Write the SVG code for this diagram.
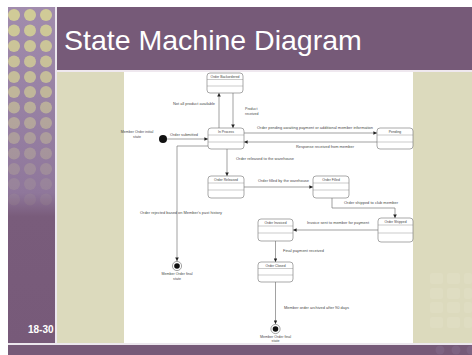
<svg xmlns="http://www.w3.org/2000/svg" width="472" height="355" viewBox="0 0 472 355">
  <style>
    .state { fill: #ffffff; stroke: #6e6e6e; stroke-width: 0.6; }
    .div { stroke: #8a8a8a; stroke-width: 0.45; }
    .edge { fill: none; stroke: #7a7a7a; stroke-width: 0.7; }
    .sname { font-family: "Liberation Sans", Arial, sans-serif; font-size: 3.4px; fill: #444; text-anchor: middle; }
    .lbl { font-family: "Liberation Sans", Arial, sans-serif; font-size: 3.6px; fill: #4a4a4a; }
    .lblc { font-family: "Liberation Sans", Arial, sans-serif; font-size: 3.6px; fill: #4a4a4a; text-anchor: middle; }
    .dot { fill: #d3cf96; }
    .tile { fill: #e4e2cc; opacity: 0.35; }
  </style>
  <defs>
    <linearGradient id="colGrad" x1="0" y1="0" x2="0" y2="1">
      <stop offset="0" stop-color="#a18cad"/>
      <stop offset="0.55" stop-color="#8f779b"/>
      <stop offset="0.62" stop-color="#795c7b"/>
      <stop offset="1" stop-color="#775a79"/>
    </linearGradient>
    <marker id="arr" viewBox="0 0 6 6" refX="6" refY="3" markerWidth="3.6" markerHeight="3.6" orient="auto" markerUnits="userSpaceOnUse">
      <path d="M0,0 L6,3 L0,6 Z" fill="#222"/>
    </marker>
  </defs>

  <!-- slide frame -->
  <rect x="0" y="0" width="472" height="355" fill="#ffffff"/>
  <rect x="8" y="7" width="47" height="338" fill="url(#colGrad)"/>
  <rect x="55" y="7" width="2" height="338" fill="#ece7ee"/>
  <rect x="57" y="7" width="415" height="63" fill="#765a78"/>
  <rect x="57" y="70" width="415" height="2" fill="#efe8ef"/>
  <rect x="57" y="72" width="415" height="272" fill="#dcdabd"/>
  <rect x="124" y="72" width="289" height="272" fill="#ffffff"/>
  <rect x="8" y="343" width="464" height="2" fill="#ece7ee"/>
  <rect x="8" y="345" width="464" height="10" fill="#765a78"/>

  <!-- dotted column pattern -->
  <g id="dots">
    <g opacity="0.95"><circle class="dot" cx="14" cy="15" r="6"/><circle class="dot" cx="30" cy="15" r="6"/><circle class="dot" cx="46" cy="15" r="6"/></g>
    <g opacity="0.9"><circle class="dot" cx="14" cy="30.5" r="6"/><circle class="dot" cx="30" cy="30.5" r="6"/><circle class="dot" cx="46" cy="30.5" r="6"/></g>
    <g opacity="0.86"><circle class="dot" cx="14" cy="46" r="6"/><circle class="dot" cx="30" cy="46" r="6"/><circle class="dot" cx="46" cy="46" r="6"/></g>
    <g opacity="0.82"><circle class="dot" cx="14" cy="61.5" r="6"/><circle class="dot" cx="30" cy="61.5" r="6"/><circle class="dot" cx="46" cy="61.5" r="6"/></g>
    <g opacity="0.76"><circle class="dot" cx="14" cy="77" r="6"/><circle class="dot" cx="30" cy="77" r="6"/><circle class="dot" cx="46" cy="77" r="6"/></g>
    <g opacity="0.68"><circle class="dot" cx="14" cy="92" r="6"/><circle class="dot" cx="30" cy="92" r="6"/><circle class="dot" cx="46" cy="92" r="6"/></g>
    <g opacity="0.58"><circle class="dot" cx="14" cy="107.5" r="6"/><circle class="dot" cx="30" cy="107.5" r="6"/><circle class="dot" cx="46" cy="107.5" r="6"/></g>
    <g opacity="0.48"><circle class="dot" cx="14" cy="123" r="6"/><circle class="dot" cx="30" cy="123" r="6"/><circle class="dot" cx="46" cy="123" r="6"/></g>
    <g opacity="0.38"><circle class="dot" cx="14" cy="138" r="6"/><circle class="dot" cx="30" cy="138" r="6"/><circle class="dot" cx="46" cy="138" r="6"/></g>
    <g opacity="0.3"><circle class="dot" cx="14" cy="153.5" r="6"/><circle class="dot" cx="30" cy="153.5" r="6"/><circle class="dot" cx="46" cy="153.5" r="6"/></g>
    <g opacity="0.22"><circle class="dot" cx="14" cy="169" r="6"/><circle class="dot" cx="30" cy="169" r="6"/><circle class="dot" cx="46" cy="169" r="6"/></g>
    <g opacity="0.14"><circle class="dot" cx="14" cy="184" r="6"/><circle class="dot" cx="30" cy="184" r="6"/><circle class="dot" cx="46" cy="184" r="6"/></g>
    <g opacity="0.08"><circle class="dot" cx="14" cy="199.5" r="6"/><circle class="dot" cx="30" cy="199.5" r="6"/><circle class="dot" cx="46" cy="199.5" r="6"/></g>
  </g>

  <!-- faint tiles, lower right -->
  <g id="tiles">
    <rect class="tile" x="430" y="273" width="13" height="11" rx="2"/><rect class="tile" x="447" y="273" width="13" height="11" rx="2"/><rect class="tile" x="464" y="273" width="8" height="11" rx="2"/>
    <rect class="tile" x="430" y="288" width="13" height="11" rx="2"/><rect class="tile" x="447" y="288" width="13" height="11" rx="2"/><rect class="tile" x="464" y="288" width="8" height="11" rx="2"/>
    <rect class="tile" x="430" y="302" width="13" height="11" rx="2"/><rect class="tile" x="447" y="302" width="13" height="11" rx="2"/><rect class="tile" x="464" y="302" width="8" height="11" rx="2"/>
    <rect class="tile" x="430" y="317" width="13" height="11" rx="2"/><rect class="tile" x="447" y="317" width="13" height="11" rx="2"/><rect class="tile" x="464" y="317" width="8" height="11" rx="2"/>
    <circle cx="440" cy="350" r="4.5" fill="#8a7190" opacity="0.4"/>
    <circle cx="456" cy="350" r="4.5" fill="#8a7190" opacity="0.4"/>
    <circle cx="471" cy="350" r="4.5" fill="#8a7190" opacity="0.4"/>
  </g>

  <!-- slide title and number -->
  <text x="64" y="50" font-family="Liberation Sans, Arial, sans-serif" font-size="28.5" fill="#ffffff">State Machine Diagram</text>
  <text x="28" y="333" font-family="Liberation Sans, Arial, sans-serif" font-size="10" font-weight="bold" fill="#ffffff">18-30</text>

  <!-- connectors -->
  <g id="connectors">
    <path class="edge" d="M219,128 L219,93" marker-end="url(#arr)"/>
    <path class="edge" d="M233,93 L233,128" marker-end="url(#arr)"/>
    <path class="edge" d="M167,139 L208,139" marker-end="url(#arr)"/>
    <path class="edge" d="M244,133 L377,133" marker-end="url(#arr)"/>
    <path class="edge" d="M377,142 L244,142" marker-end="url(#arr)"/>
    <path class="edge" d="M208,146 L177,146 L177,261" marker-end="url(#arr)"/>
    <path class="edge" d="M227,149 L227,176" marker-end="url(#arr)"/>
    <path class="edge" d="M244,187 L313,187" marker-end="url(#arr)"/>
    <path class="edge" d="M332,198 L332,208 L395,208 L395,218" marker-end="url(#arr)"/>
    <path class="edge" d="M378,230 L293,230" marker-end="url(#arr)"/>
    <path class="edge" d="M275.5,241 L275.5,262" marker-end="url(#arr)"/>
    <path class="edge" d="M275.5,282 L275.5,324" marker-end="url(#arr)"/>

    <text class="lbl" x="173" y="105" textLength="42" lengthAdjust="spacingAndGlyphs">Not all product available</text>
    <text class="lbl" x="245" y="110">Product</text>
    <text class="lbl" x="245" y="115">received</text>
    <text class="lbl" x="170" y="136" textLength="28" lengthAdjust="spacingAndGlyphs">Order submitted</text>
    <text class="lbl" x="257" y="128.5" textLength="116" lengthAdjust="spacingAndGlyphs">Order pending awaiting payment or additional member information</text>
    <text class="lbl" x="296" y="148" textLength="58" lengthAdjust="spacingAndGlyphs">Response received from member</text>
    <text class="lbl" x="236" y="160" textLength="58" lengthAdjust="spacingAndGlyphs">Order released to the warehouse</text>
    <text class="lbl" x="258" y="182" textLength="51" lengthAdjust="spacingAndGlyphs">Order filled by the warehouse</text>
    <text class="lbl" x="344" y="204" textLength="54" lengthAdjust="spacingAndGlyphs">Order shipped to club member</text>
    <text class="lbl" x="307" y="224" textLength="62" lengthAdjust="spacingAndGlyphs">Invoice sent to member for payment</text>
    <text class="lbl" x="283" y="252" textLength="41" lengthAdjust="spacingAndGlyphs">Final payment received</text>
    <text class="lbl" x="140" y="214" textLength="82" lengthAdjust="spacingAndGlyphs">Order rejected based on Member's past history</text>
    <text class="lbl" x="284" y="309" textLength="65" lengthAdjust="spacingAndGlyphs">Member order archived after 90 days</text>
  </g>

  <!-- states -->
  <g id="initial">
    <circle cx="163" cy="139" r="4" fill="#111"/>
    <text class="lblc" x="137" y="133">Member Order initial</text>
    <text class="lblc" x="137" y="137.5">state</text>
  </g>

  <g id="backordered">
    <rect class="state" x="207" y="73" width="36" height="20" rx="3"/>
    <line class="div" x1="207" y1="79.5" x2="243" y2="79.5"/>
    <line class="div" x1="207" y1="86" x2="243" y2="86"/>
    <text class="sname" x="225" y="77.8">Order Backordered</text>
  </g>

  <g id="in-process">
    <rect class="state" x="208" y="128" width="36" height="21" rx="3"/>
    <line class="div" x1="208" y1="135" x2="244" y2="135"/>
    <line class="div" x1="208" y1="142" x2="244" y2="142"/>
    <text class="sname" x="226" y="133">In Process</text>
  </g>

  <g id="pending">
    <rect class="state" x="377" y="128" width="36" height="21" rx="3"/>
    <line class="div" x1="377" y1="135" x2="413" y2="135"/>
    <line class="div" x1="377" y1="142" x2="413" y2="142"/>
    <text class="sname" x="395" y="133">Pending</text>
  </g>

  <g id="released">
    <rect class="state" x="208" y="176" width="36" height="22" rx="3"/>
    <line class="div" x1="208" y1="183" x2="244" y2="183"/>
    <line class="div" x1="208" y1="190" x2="244" y2="190"/>
    <text class="sname" x="226" y="181">Order Released</text>
  </g>

  <g id="filled">
    <rect class="state" x="313" y="176" width="36" height="22" rx="3"/>
    <line class="div" x1="313" y1="183" x2="349" y2="183"/>
    <line class="div" x1="313" y1="190" x2="349" y2="190"/>
    <text class="sname" x="331" y="181">Order Filled</text>
  </g>

  <g id="shipped">
    <rect class="state" x="378" y="218" width="35" height="24" rx="3"/>
    <line class="div" x1="378" y1="225" x2="413" y2="225"/>
    <line class="div" x1="378" y1="233" x2="413" y2="233"/>
    <text class="sname" x="395.5" y="223">Order Shipped</text>
  </g>

  <g id="invoiced">
    <rect class="state" x="258" y="219" width="35" height="22" rx="3"/>
    <line class="div" x1="258" y1="226" x2="293" y2="226"/>
    <line class="div" x1="258" y1="233" x2="293" y2="233"/>
    <text class="sname" x="275.5" y="224">Order Invoiced</text>
  </g>

  <g id="closed">
    <rect class="state" x="258" y="262" width="35" height="20" rx="3"/>
    <line class="div" x1="258" y1="268.5" x2="293" y2="268.5"/>
    <line class="div" x1="258" y1="275" x2="293" y2="275"/>
    <text class="sname" x="275.5" y="266.8">Order Closed</text>
  </g>

  <g id="final-rejected">
    <circle cx="177" cy="266" r="4.6" fill="#ffffff" stroke="#666" stroke-width="0.6"/>
    <circle cx="177" cy="266" r="2.8" fill="#111"/>
    <text class="lblc" x="177" y="275">Member Order final</text>
    <text class="lblc" x="177" y="279.5">state</text>
  </g>

  <g id="final-archived">
    <circle cx="275.5" cy="329" r="4.6" fill="#ffffff" stroke="#666" stroke-width="0.6"/>
    <circle cx="275.5" cy="329" r="2.8" fill="#111"/>
    <text class="lblc" x="275.5" y="338">Member Order final</text>
    <text class="lblc" x="275.5" y="342.3">state</text>
  </g>
</svg>
